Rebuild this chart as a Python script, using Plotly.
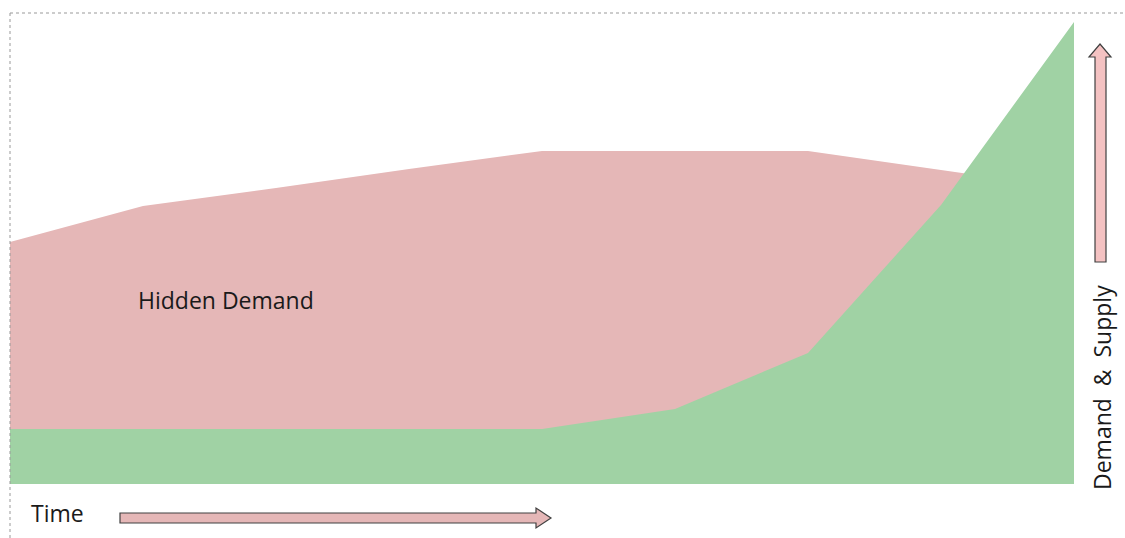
import plotly.graph_objects as go

# Data (arbitrary units, time steps)
time_steps = [1, 2, 3, 4, 5, 6, 7, 8, 9]
hidden_demand = [242, 278, 296, 315, 333, 333, 333, 314, 295]
supply = [55, 55, 55, 55, 55, 75, 131, 279, 462]

W, H = 1125, 538
L, R, T, B = 10, 51, 22, 54
PW, PH = W - L - R, H - T - B

def px(x):
    return (x - L) / PW

def py(y):
    return (H - B - y) / PH

fig = go.Figure()
fig.add_trace(go.Scatter(x=time_steps, y=hidden_demand, mode="lines", fill="tozeroy",
                         line=dict(width=0, color="#e5b7b7"), fillcolor="rgb(229,183,183)",
                         hoverinfo="skip", showlegend=False))
fig.add_trace(go.Scatter(x=time_steps, y=supply, mode="lines", fill="tozeroy",
                         line=dict(width=0, color="#a0d2a4"), fillcolor="rgb(160,210,164)",
                         hoverinfo="skip", showlegend=False))

shapes = []
# dotted frame (top and left)
shapes.append(dict(type="line", xref="paper", yref="paper", x0=px(10), y0=py(13), x1=px(1125), y1=py(13),
                   line=dict(color="#999999", width=1, dash="dot")))
shapes.append(dict(type="line", xref="paper", yref="paper", x0=px(10), y0=py(13), x1=px(10), y1=py(538),
                   line=dict(color="#999999", width=1, dash="dot")))

def path(points):
    s = "M " + " L ".join(f"{px(a):.5f},{py(b):.5f}" for a, b in points) + " Z"
    return s

# horizontal arrow (time)
h_pts = [(120, 513), (536, 513), (536, 508), (551, 518), (536, 528), (536, 523), (120, 523)]
shapes.append(dict(type="path", xref="paper", yref="paper", path=path(h_pts),
                   fillcolor="#e5b7b7", line=dict(color="#404040", width=1.2)))
# vertical arrow (demand & supply)
v_pts = [(1095, 262), (1095, 57), (1089, 57), (1100, 44), (1111, 57), (1106, 57), (1106, 262)]
shapes.append(dict(type="path", xref="paper", yref="paper", path=path(v_pts),
                   fillcolor="#f4c2c2", line=dict(color="#404040", width=1.2)))

annotations = [
    dict(text="Hidden Demand", xref="paper", yref="paper", x=px(226), y=py(300), showarrow=False,
         font=dict(family="Open Sans", size=23, color="#1a1a1a"), xanchor="center", yanchor="middle"),
    dict(text="Time", xref="paper", yref="paper", x=px(57.5), y=py(513), showarrow=False,
         font=dict(family="Open Sans", size=23, color="#1a1a1a"), xanchor="center", yanchor="middle"),
    dict(text="Demand  &  Supply", xref="paper", yref="paper", x=px(1102), y=py(388), showarrow=False,
         textangle=-90, font=dict(family="Open Sans", size=23, color="#1a1a1a"),
         xanchor="center", yanchor="middle"),
]

fig.update_layout(
    width=W, height=H,
    margin=dict(l=L, r=R, t=T, b=B, pad=0),
    paper_bgcolor="white", plot_bgcolor="white",
    xaxis=dict(range=[1, 9], visible=False, fixedrange=True),
    yaxis=dict(range=[0, 462], visible=False, fixedrange=True),
    shapes=shapes, annotations=annotations,
)

fig.write_html("out.html", config={"displayModeBar": False})
